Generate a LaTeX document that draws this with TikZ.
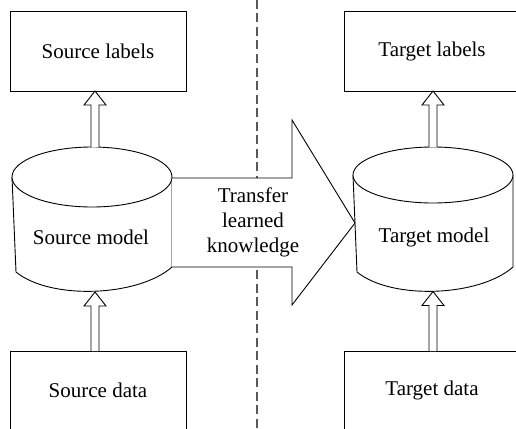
\documentclass[tikz,border=0pt]{standalone}
\usepackage{fontspec}
\setmainfont{Liberation Serif}
\usetikzlibrary{calc}
\newcommand\blockup[2]{\draw[hollow] ($(#1)+(-4,0)$) -- ($(#2)+(-4,14)$) -- ($(#2)+(-11,14)$) -- (#2) -- ($(#2)+(11,14)$) -- ($(#2)+(4,14)$) -- ($(#1)+(4,0)$);}
\begin{document}
\begin{tikzpicture}[x=1pt,y=-1pt, line width=0.9pt,
  txt/.style={font=\fontsize{21}{25}\selectfont, inner sep=0pt},
  box/.style={draw, fill=white, minimum width=176pt, inner sep=0pt, font=\fontsize{21}{25}\selectfont},
  hollow/.style={draw, fill=white, line join=miter},
  divider/.style={draw=black!65, line width=1.5pt, dash pattern=on 9pt off 4.5pt}]
\useasboundingbox (0,0) rectangle (516,428);
% divider
\coordinate (dtop) at (257,0);
\coordinate (dbot) at (257,428);
\draw[divider] (dtop) -- (dbot);
% boxes
\node[box, minimum height=80pt] (slab) at (98,51) {Source labels\hspace{11pt}};
\node[box, minimum height=80pt] (tlab) at (432,51) {Target labels};
\node[box, minimum height=79pt] (sdat) at (98,390.5) {Source data};
\node[box, minimum height=79pt] (tdat) at (432,390.5) {Target data};
% source cylinder
\draw[fill=white] (12,177) -- (16,272) .. controls (50,300) and (138,297) .. (172,267) -- (172,177);
\draw[fill=white] (92,177) ellipse [x radius=80, y radius=30];
\node[txt] (smod) at (91,237) {Source model};
% target cylinder
\draw[fill=white] (353,175) -- (357,272) .. controls (391,300) and (479,297) .. (513,267) -- (513,175);
\draw[fill=white] (433,175) ellipse [x radius=80, y radius=28];
\node[txt] (tmod) at (434,237) {Target model};
% connector points
\coordinate (slabB) at (95,91);
\coordinate (scT) at (95,147.3);
\coordinate (scB) at (95,292);
\coordinate (sdatT) at (95,351);
\coordinate (tlabB) at (433,91);
\coordinate (tcT) at (433,147.2);
\coordinate (tcB) at (433,291.5);
\coordinate (tdatT) at (433,351);
\blockup{scT}{slabB}
\blockup{sdatT}{scB}
\blockup{tcT}{tlabB}
\blockup{tdatT}{tcB}
% big transfer arrow
\coordinate (bTL) at (172,178);
\coordinate (bBL) at (172,267);
\coordinate (tip) at (355,223);
\draw[hollow] (bTL) -- (292,178) -- (292,120) -- (tip) -- (292,305) -- (292,267) -- (bBL);
\node[txt, align=center] (know) at (253,222) {Transfer\\learned\\knowledge};
\end{tikzpicture}
\end{document}
